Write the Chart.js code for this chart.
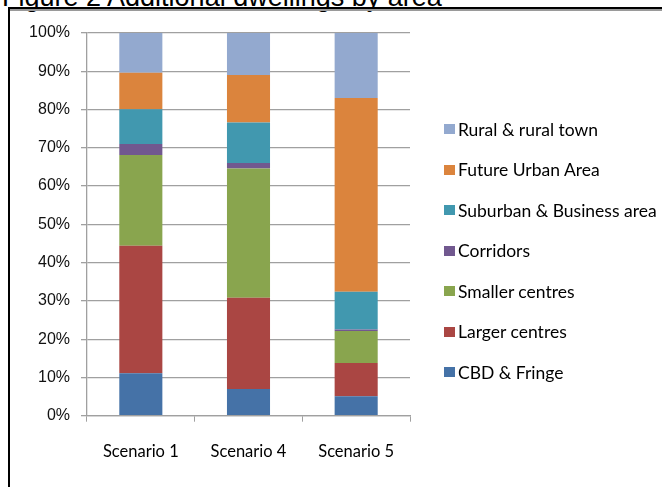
<!DOCTYPE html>
<html>
<head>
<meta charset="utf-8">
<script src="https://cdn.jsdelivr.net/npm/chart.js@4.4.1/dist/chart.umd.min.js"></script>
<style>
  html, body { margin: 0; padding: 0; background: #fff; }
  body { width: 662px; height: 487px; position: relative; overflow: hidden; }
  #title { position: absolute; left: 2px; top: -16px; font-family: "Liberation Sans", Arial, sans-serif; font-size: 27px; line-height: 26px; color: #000; white-space: nowrap; }
  #frameTop { position: absolute; left: 8px; top: 7px; width: 660px; height: 2px; background: #000; border-bottom: 2px solid #9a9a9a; }
  #frameLeft { position: absolute; left: 8px; top: 7px; width: 2px; height: 490px; background: #000; }
  #wrap { position: absolute; left: 0; top: 0; width: 662px; height: 487px; }
  #legend { position: absolute; left: 444px; top: 109px; font-family: Lato, "Open Sans", sans-serif; font-size: 17.5px; color: #000; }
  .item { height: 40.5px; display: flex; align-items: center; white-space: nowrap; }
  .box { width: 11px; height: 10px; margin-right: 3px; flex: none; }
</style>
</head>
<body>
<div id="title">Figure 2 Additional dwellings by area</div>
<div id="frameTop"></div>
<div id="frameLeft"></div>
<div id="wrap"><canvas id="c" width="662" height="487"></canvas></div>
<div id="legend"></div>
<script>
const categories = ["Scenario 1", "Scenario 4", "Scenario 5"];
const seriesNames = ["CBD & Fringe", "Larger centres", "Smaller centres", "Corridors", "Suburban & Business area", "Future Urban Area", "Rural & rural town"];
const cbdFringe      = [11.1, 7.0, 5.1];
const largerCentres  = [33.3, 23.8, 8.7];
const smallerCentres = [23.7, 33.8, 8.3];
const corridors      = [2.9, 1.4, 0.4];
const suburbanBiz    = [9.1, 10.6, 9.9];
const futureUrban    = [9.5, 12.4, 50.6];
const ruralTown      = [10.4, 11.0, 17.0];
const seriesColors = ["#4572A7", "#AA4643", "#89A54E", "#71588F", "#4198AF", "#DB843D", "#93A9CF"];
const yTickValues = [0, 10, 20, 30, 40, 50, 60, 70, 80, 90, 100];

const seriesData = [cbdFringe, largerCentres, smallerCentres, corridors, suburbanBiz, futureUrban, ruralTown];

const datasets = seriesNames.map((name, i) => ({
  label: name,
  data: seriesData[i],
  backgroundColor: seriesColors[i],
  borderWidth: 0,
  categoryPercentage: 0.8,
  barPercentage: 0.5
}));

const gridColor = "#a0a0a0";

new Chart(document.getElementById("c"), {
  type: "bar",
  data: { labels: categories, datasets },
  options: {
    responsive: false,
    animation: false,
    devicePixelRatio: 1,
    layout: { padding: { left: 0, right: 252, top: 33, bottom: 0 } },
    plugins: { legend: { display: false }, tooltip: { enabled: false }, title: { display: false } },
    scales: {
      x: {
        stacked: true,
        grid: { display: true, drawOnChartArea: false, drawTicks: true, tickLength: 6, color: gridColor, offset: true },
        border: { display: true, color: gridColor, width: 1.3 },
        ticks: { padding: 20, color: "#000", font: { family: "Lato", size: 16.5 } },
        afterFit(scale) { scale.height = 71.3; }
      },
      y: {
        stacked: true,
        min: 0,
        max: 100,
        afterBuildTicks(scale) { scale.ticks = yTickValues.map(v => ({ value: v })); },
        grid: { display: true, drawTicks: true, tickLength: 6, color: gridColor, lineWidth: 1.3 },
        border: { display: true, color: gridColor, width: 1.3 },
        ticks: { padding: 11, color: "#111", font: { family: "Liberation Sans", size: 16 }, callback: v => v + "%" },
        afterFit(scale) { scale.width = 87; }
      }
    }
  }
});

const legend = document.getElementById("legend");
for (let i = seriesNames.length - 1; i >= 0; i--) {
  const row = document.createElement("div");
  row.className = "item";
  const box = document.createElement("span");
  box.className = "box";
  box.style.background = seriesColors[i];
  const txt = document.createElement("span");
  txt.textContent = seriesNames[i];
  row.appendChild(box);
  row.appendChild(txt);
  legend.appendChild(row);
}
</script>
</body>
</html>
